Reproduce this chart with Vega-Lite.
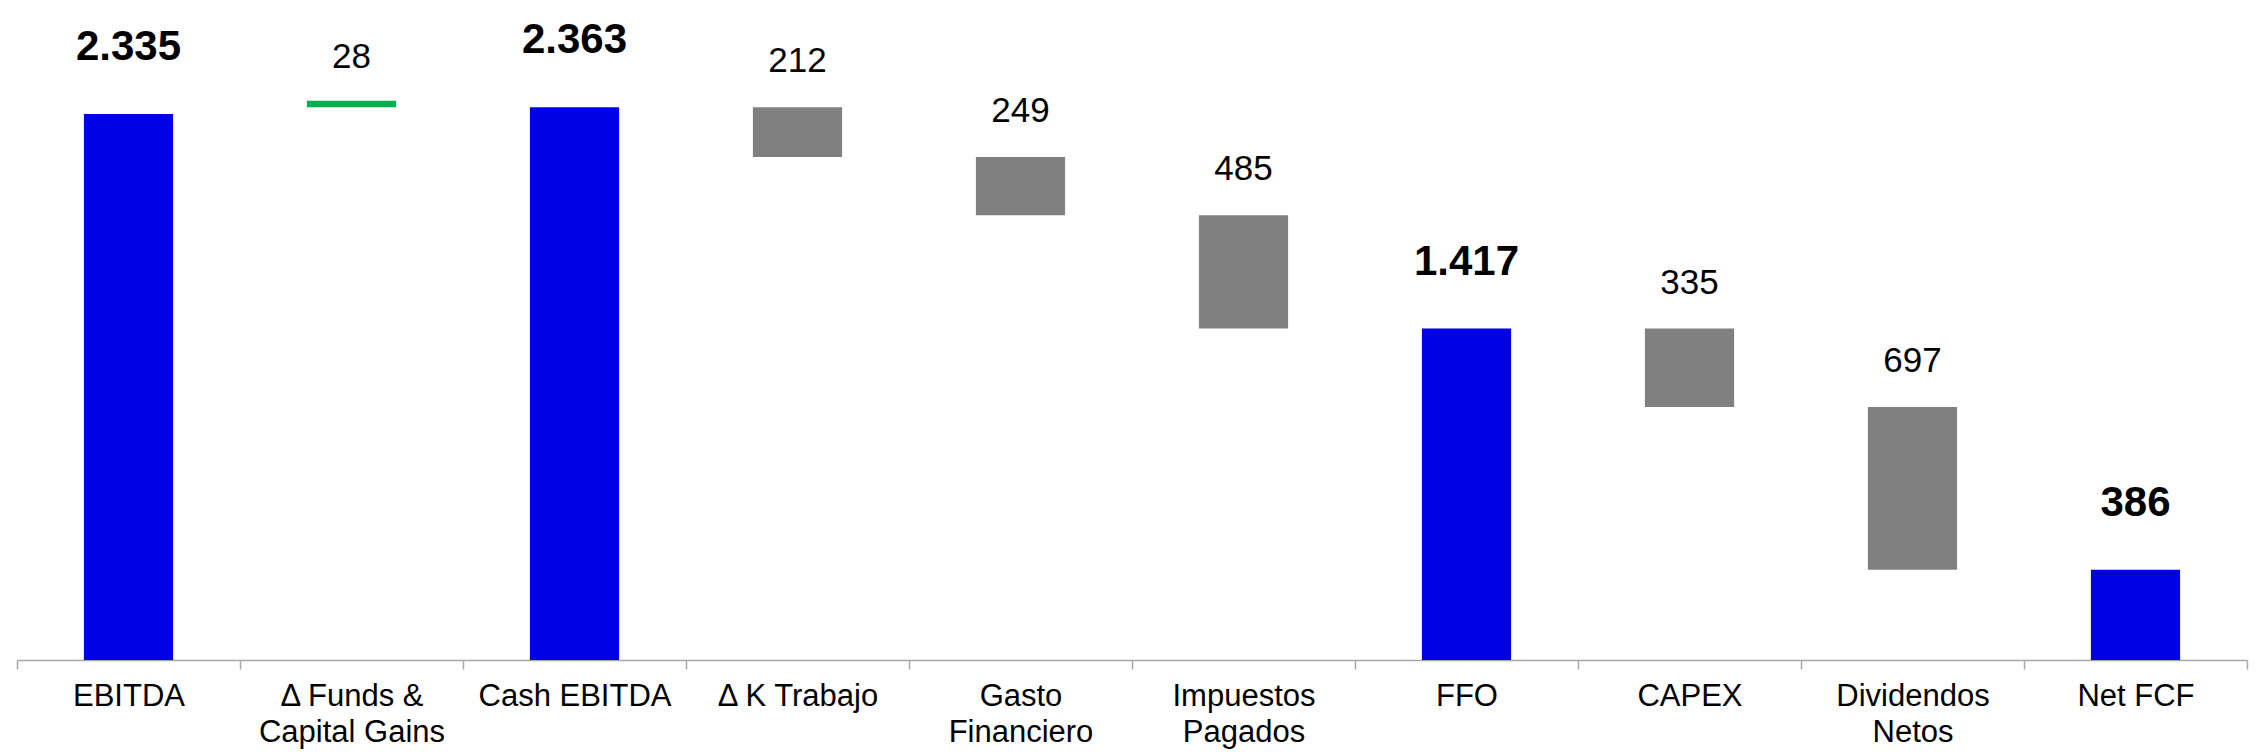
{
  "$schema": "https://vega.github.io/schema/vega-lite/v6.json",
  "autosize": {"type": "none"},
  "padding": {"left": 17, "top": 0, "right": 10, "bottom": 94},
  "width": 2230,
  "height": 660,
  "background": "white",
  "config": {"view": {"stroke": null}},
  "data": {
    "values": [
      {"cat": "EBITDA", "start": 0, "end": 2335, "type": "total", "label": "2.335"},
      {"cat": "Δ Funds &|Capital Gains", "start": 2363, "end": 2391, "type": "up", "label": "28"},
      {"cat": "Cash EBITDA", "start": 0, "end": 2363, "type": "total", "label": "2.363"},
      {"cat": "Δ K Trabajo", "start": 2363, "end": 2151, "type": "down", "label": "212"},
      {"cat": "Gasto|Financiero", "start": 2151, "end": 1902, "type": "down", "label": "249"},
      {"cat": "Impuestos|Pagados", "start": 1902, "end": 1417, "type": "down", "label": "485"},
      {"cat": "FFO", "start": 0, "end": 1417, "type": "total", "label": "1.417"},
      {"cat": "CAPEX", "start": 1417, "end": 1082, "type": "down", "label": "335"},
      {"cat": "Dividendos|Netos", "start": 1082, "end": 386, "type": "down", "label": "697"},
      {"cat": "Net FCF", "start": 0, "end": 386, "type": "total", "label": "386"}
    ]
  },
  "encoding": {
    "x": {
      "field": "cat",
      "type": "nominal",
      "sort": null,
      "scale": {"paddingInner": 0, "paddingOuter": 0},
      "axis": {
        "title": null,
        "labelAngle": 0,
        "tickBand": "extent",
        "domainColor": "#A6A6A6",
        "domainWidth": 1.5,
        "tickColor": "#A6A6A6",
        "tickWidth": 1.5,
        "tickSize": 9,
        "labelFont": "Liberation Sans",
        "labelFontSize": 31,
        "labelColor": "#000000",
        "labelLineHeight": 36,
        "labelPadding": 12,
        "labelBaseline": "top",
        "labelLimit": 0,
        "labelExpr": "split(datum.label, '|')"
      }
    }
  },
  "layer": [
    {
      "mark": {"type": "bar", "width": {"band": 0.4}},
      "encoding": {
        "y": {"field": "start", "type": "quantitative", "scale": {"domain": [0, 2822], "nice": false, "zero": false}, "axis": null},
        "y2": {"field": "end"},
        "color": {
          "field": "type",
          "type": "nominal",
          "scale": {"domain": ["total", "up", "down"], "range": ["#0000E6", "#00B050", "#808080"]},
          "legend": null
        }
      }
    },
    {
      "transform": [{"filter": "datum.type == 'total'"}],
      "mark": {"type": "text", "font": "Liberation Sans", "fontWeight": "bold", "fontSize": 42, "baseline": "alphabetic", "align": "center", "dy": -54, "color": "#000000"},
      "encoding": {
        "y": {"field": "end", "type": "quantitative"},
        "text": {"field": "label"}
      }
    },
    {
      "transform": [{"filter": "datum.type == 'up'"}],
      "mark": {"type": "text", "font": "Liberation Sans", "fontSize": 35, "baseline": "alphabetic", "align": "center", "dy": -33, "color": "#000000"},
      "encoding": {
        "y": {"field": "end", "type": "quantitative"},
        "text": {"field": "label"}
      }
    },
    {
      "transform": [{"filter": "datum.type == 'down'"}],
      "mark": {"type": "text", "font": "Liberation Sans", "fontSize": 35, "baseline": "alphabetic", "align": "center", "dy": -35, "color": "#000000"},
      "encoding": {
        "y": {"field": "start", "type": "quantitative"},
        "text": {"field": "label"}
      }
    }
  ]
}
